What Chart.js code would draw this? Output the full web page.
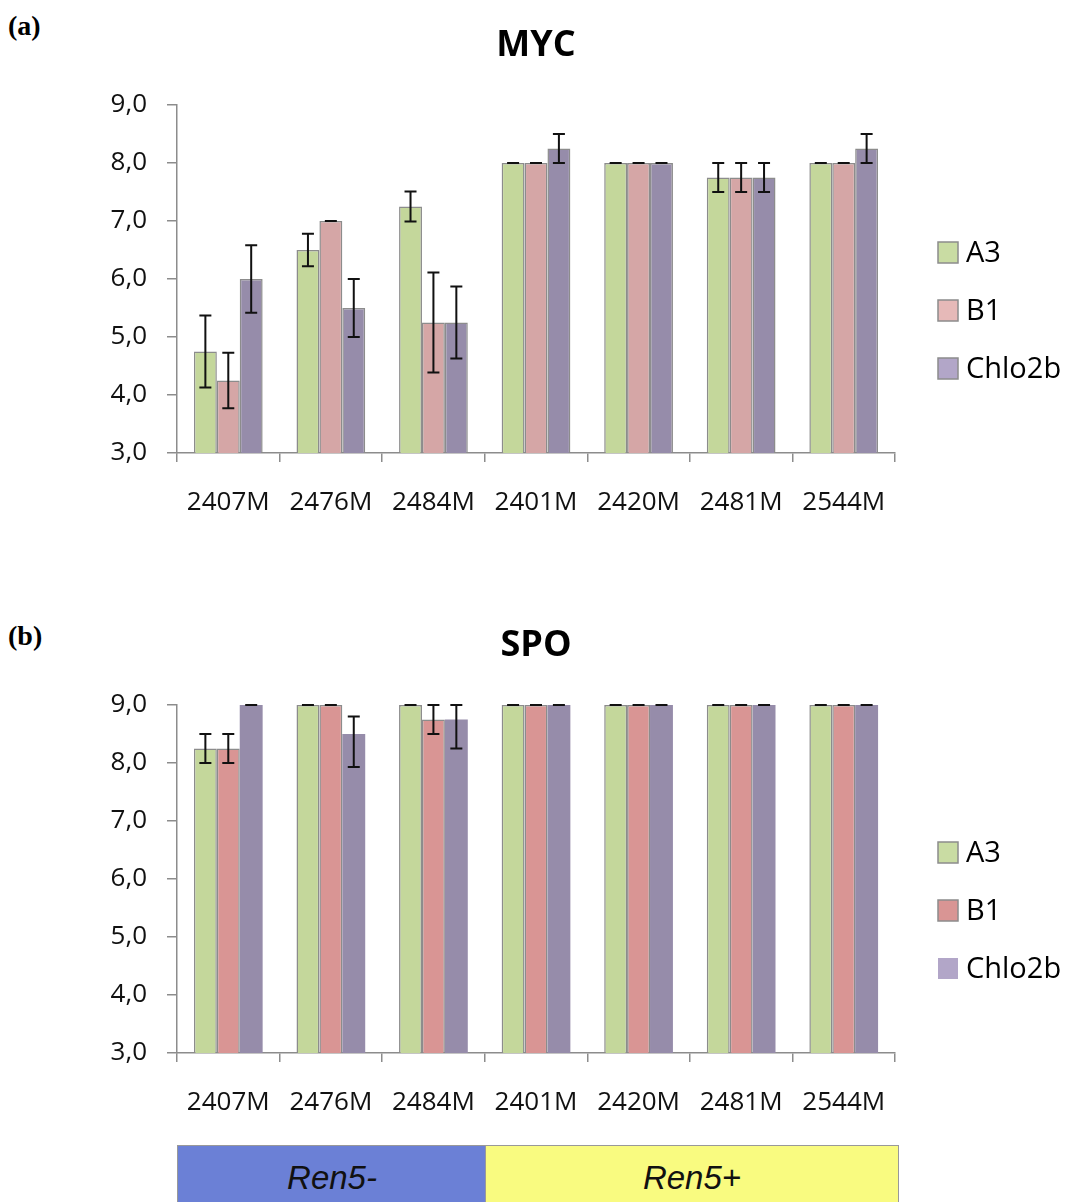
<!DOCTYPE html>
<html>
<head>
<meta charset="utf-8">
<script src="https://cdn.jsdelivr.net/npm/chart.js@4.4.1/dist/chart.umd.min.js"></script>
<style>
  body { margin: 0; background: #fff; width: 1069px; height: 1202px; overflow: hidden; position: relative; }
  canvas { position: absolute; left: 0; }
  #mycChart { top: 0; }
  #spoChart { top: 600px; }
  .panel { position: absolute; left: 8px; font: bold 28px "Liberation Serif", serif; color: #000; }
  .band { position: absolute; top: 1145px; height: 60px; box-sizing: border-box; border: 1px solid #999;
          display: flex; align-items: center; justify-content: center; padding-top: 6px;
          font: italic 33px "Liberation Sans", Arial, sans-serif; color: #111; }
</style>
</head>
<body>
<div class="panel" style="top:10px">(a)</div>
<div class="panel" style="top:620px">(b)</div>
<canvas id="mycChart" width="1069" height="560"></canvas>
<canvas id="spoChart" width="1069" height="560"></canvas>
<div class="band" style="left:177px;width:309px;background:#6b80d6;border-right:none">Ren5-</div>
<div class="band" style="left:485px;width:414px;background:#f9fb80">Ren5+</div>

<script>
// categories + series
const categories = ['2407M', '2476M', '2484M', '2401M', '2420M', '2481M', '2544M'];
const seriesNames = ['A3', 'B1', 'Chlo2b'];
const yMin = 3, yMax = 9, yStep = 1;

// MYC means
const mycA3 = [4.75, 6.5, 7.25, 8, 8, 7.75, 8];
const mycB1 = [4.25, 7.0, 5.25, 8, 8, 7.75, 8];
const mycChlo2b = [6.0, 5.5, 5.25, 8.25, 8, 7.75, 8.25];
// MYC error (a number = symmetric, [down, up] otherwise)
const mycA3Err = [0.62, 0.28, 0.26, 0, 0, 0.25, 0];
const mycB1Err = [0.48, 0, 0.86, 0, 0, 0.25, 0];
const mycChlo2bErr = [0.58, 0.5, 0.62, 0.25, 0, 0.25, 0.25];

// SPO means
const spoA3 = [8.25, 9, 9, 9, 9, 9, 9];
const spoB1 = [8.25, 9, 8.75, 9, 9, 9, 9];
const spoChlo2b = [9, 8.5, 8.75, 9, 9, 9, 9];
const spoA3Err = [0.25, 0, 0, 0, 0, 0, 0];
const spoB1Err = [0.25, 0, 0.25, 0, 0, 0, 0];
const spoChlo2bErr = [0, [0.57, 0.3], [0.5, 0.25], 0, 0, 0, 0];

const FONT = '"Open Sans", "Noto Sans", sans-serif';
const AXIS_GRAY = '#8c8c8c';

const errorBars = {
  id: 'errorBars',
  afterDatasetsDraw(chart) {
    const ctx = chart.ctx;
    const y = chart.scales.y;
    ctx.save();
    ctx.strokeStyle = '#111';
    ctx.lineWidth = 2;
    chart.data.datasets.forEach((ds, i) => {
      const meta = chart.getDatasetMeta(i);
      meta.data.forEach((bar, j) => {
        const e = ds.errors[j];
        const lo = Array.isArray(e) ? e[0] : e;
        const hi = Array.isArray(e) ? e[1] : e;
        const v = ds.data[j];
        const top = y.getPixelForValue(v + hi);
        const bot = y.getPixelForValue(v - lo);
        const x = bar.x, cap = 6;
        ctx.beginPath();
        ctx.moveTo(x - cap, top); ctx.lineTo(x + cap, top);
        if (lo + hi > 0) {
          ctx.moveTo(x, top); ctx.lineTo(x, bot);
          ctx.moveTo(x - cap, bot); ctx.lineTo(x + cap, bot);
        }
        ctx.stroke();
      });
    });
    ctx.restore();
  }
};

// title over the plot area + legend at the right, like the original
const sideLegend = {
  id: 'sideLegend',
  afterDraw(chart, args, opts) {
    const ctx = chart.ctx;
    const area = chart.chartArea;
    ctx.save();
    ctx.fillStyle = '#000';
    ctx.font = 'bold 36px ' + FONT;
    ctx.textAlign = 'center';
    ctx.textBaseline = 'middle';
    ctx.fillText(opts.title, (area.left + area.right) / 2, opts.titleY);
    ctx.textAlign = 'left';
    chart.data.datasets.forEach((ds, i) => {
      const cy = opts.top + i * opts.gap;
      ctx.fillStyle = ds.swatch || ds.backgroundColor;
      ctx.fillRect(opts.x, cy - 10, 20, 21);
      if (ds.borderWidth > 0) {
        ctx.strokeStyle = AXIS_GRAY;
        ctx.lineWidth = 1.5;
        ctx.strokeRect(opts.x, cy - 10, 20, 21);
      }
      ctx.fillStyle = '#000';
      ctx.font = '29px ' + FONT;
      ctx.fillText(ds.label, opts.x + 28, cy + 2);
    });
    ctx.restore();
  }
};

function makeChart(id, title, values, errors, colors, swatches, borders) {
  return new Chart(document.getElementById(id), {
    type: 'bar',
    data: {
      labels: categories,
      datasets: seriesNames.map((name, i) => ({
        label: name,
        data: values[i],
        errors: errors[i],
        backgroundColor: colors[i],
        swatch: swatches[i],
        borderColor: AXIS_GRAY,
        borderWidth: borders[i],
        borderSkipped: 'bottom',
        barPercentage: 1.0,
        categoryPercentage: 0.67
      }))
    },
    options: {
      responsive: false,
      animation: false,
      layout: { padding: { left: 0, right: 174, top: 105, bottom: 0 } },
      plugins: {
        legend: { display: false },
        tooltip: { enabled: false },
        title: { display: false },
        sideLegend: { title: title, titleY: 46, x: 938, top: 252, gap: 58 }
      },
      scales: {
        x: {
          grid: { drawOnChartArea: false, offset: true, tickLength: 9, color: AXIS_GRAY, lineWidth: 1.5 },
          border: { color: AXIS_GRAY, width: 1.5 },
          ticks: { color: '#111', font: { family: FONT, size: 26 }, padding: 25, maxRotation: 0, autoSkip: false },
          afterFit(scale) { scale.height = 107; }
        },
        y: {
          min: yMin,
          max: yMax,
          grid: { drawOnChartArea: false, tickLength: 10, color: AXIS_GRAY, lineWidth: 1.5 },
          border: { color: AXIS_GRAY, width: 1.5 },
          ticks: {
            stepSize: yStep,
            color: '#111',
            font: { family: FONT, size: 26 },
            padding: 20,
            callback: v => v.toFixed(1).replace('.', ',')
          },
          afterFit(scale) { scale.width = 177; }
        }
      }
    },
    plugins: [errorBars, sideLegend]
  });
}

makeChart('mycChart', 'MYC',
  [mycA3, mycB1, mycChlo2b],
  [mycA3Err, mycB1Err, mycChlo2bErr],
  ['#c4d79b', '#d5a6a6', '#968caa'],
  ['#c9dca3', '#e6b9b8', '#b2a6c8'],
  [1.5, 1.5, 1.5]);

makeChart('spoChart', 'SPO',
  [spoA3, spoB1, spoChlo2b],
  [spoA3Err, spoB1Err, spoChlo2bErr],
  ['#c4d79b', '#d99594', '#968caa'],
  ['#c9dca3', '#d99594', '#b2a6c8'],
  [1.5, 1.5, 0]);
</script>
</body>
</html>
